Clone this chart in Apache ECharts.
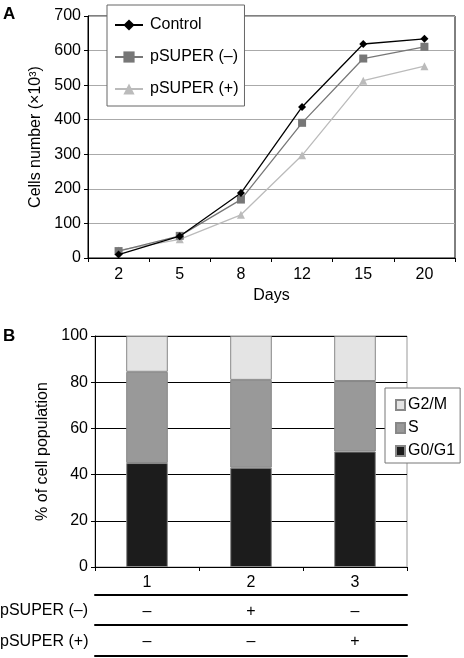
<!DOCTYPE html>
<html>
<head>
<meta charset="utf-8">
<script src="https://cdn.jsdelivr.net/npm/echarts@6/dist/echarts.min.js"></script>
<style>html,body{margin:0;padding:0;background:#fff;}#c{width:464px;height:658px;}</style>
</head>
<body>
<div id="c"></div>
<script>
// Panel A data
var days = ['2', '5', '8', '12', '15', '20'];
var control = [10, 63, 188, 437, 619, 634];
var pSuperMinus = [20, 64, 169, 391, 577, 611];
var pSuperPlus = [22, 54, 125, 297, 513, 555];
var yTicksA = [0, 700, 100];

// Panel B data
var groups = ['1', '2', '3'];
var g0g1 = [45, 43, 50];
var sPhase = [39.5, 38, 30.5];
var g2m = [15.5, 19, 19.5];
var rowMinus = ['\u2013', '+', '\u2013'];
var rowPlus = ['\u2013', '\u2013', '+'];

var FONT = 'Liberation Sans, Arial, sans-serif';
var FS = 16;
var chart = echarts.init(document.getElementById('c'), null, {renderer: 'canvas'});

var option = {
  animation: false,
  textStyle: {fontFamily: FONT, color: '#000'},
  grid: [
    {left: 88, top: 16, width: 367, height: 242, show: true, borderColor: '#000', borderWidth: 1, backgroundColor: 'transparent'},
    {left: 95, top: 336, width: 312, height: 231, show: true, borderColor: '#999', borderWidth: 1, backgroundColor: 'transparent'}
  ],
  legend: [
    {
      data: ['Control', 'pSUPER (\u2013)', 'pSUPER (+)'],
      orient: 'vertical', left: 107, top: 5, width: 137,
      padding: [12, 6, 9, 7], itemGap: 16, itemWidth: 28, itemHeight: 14,
      borderColor: '#666', borderWidth: 1, backgroundColor: '#fff',
      textStyle: {fontSize: FS, fontFamily: FONT, color: '#000', padding: [0, 0, 0, 2]}
    },
    {
      data: ['G2/M', 'S', 'G0/G1'],
      orient: 'vertical', left: 385, top: 388, icon: 'rect',
      padding: [9, 5, 4, 10], itemGap: 7, itemWidth: 9, itemHeight: 10,
      borderColor: '#777', borderWidth: 1, backgroundColor: '#fff',
      textStyle: {fontSize: FS, fontFamily: FONT, color: '#000', padding: [0, 0, 0, -2]}
    }
  ],
  xAxis: [
    {
      gridIndex: 0, type: 'category', data: days, boundaryGap: true,
      axisLine: {lineStyle: {color: '#000', width: 1}},
      axisTick: {show: true, length: 4, lineStyle: {color: '#000'}},
      axisLabel: {fontSize: FS, color: '#000', margin: 9, fontFamily: FONT},
      name: 'Days', nameLocation: 'middle', nameGap: 30,
      nameTextStyle: {fontSize: FS, color: '#000', fontFamily: FONT}
    },
    {
      gridIndex: 1, type: 'category', data: groups, boundaryGap: true,
      axisLine: {lineStyle: {color: '#000', width: 1}},
      axisTick: {show: true, length: 4, lineStyle: {color: '#000'}},
      axisLabel: {fontSize: FS, color: '#000', margin: 8, fontFamily: FONT}
    },
    {
      gridIndex: 1, type: 'category', data: rowMinus, position: 'bottom', offset: 28,
      axisLine: {lineStyle: {color: '#000', width: 2}},
      axisTick: {show: false},
      axisLabel: {fontSize: FS, color: '#000', margin: 9, fontFamily: FONT}
    },
    {
      gridIndex: 1, type: 'category', data: rowPlus, position: 'bottom', offset: 58,
      axisLine: {lineStyle: {color: '#000', width: 2}},
      axisTick: {show: false},
      axisLabel: {fontSize: FS, color: '#000', margin: 9, fontFamily: FONT}
    },
    {
      gridIndex: 1, type: 'category', data: groups, position: 'bottom', offset: 89,
      axisLine: {lineStyle: {color: '#000', width: 2}},
      axisTick: {show: false},
      axisLabel: {show: false}
    }
  ],
  yAxis: [
    {
      gridIndex: 0, type: 'value', min: yTicksA[0], max: yTicksA[1], interval: yTicksA[2],
      axisLine: {show: true, lineStyle: {color: '#000'}},
      axisTick: {show: true, length: 4, lineStyle: {color: '#000'}},
      axisLabel: {fontSize: FS, color: '#000', margin: 7, fontFamily: FONT},
      splitLine: {lineStyle: {color: '#aaa', width: 1}},
      name: 'Cells number (\u00d710\u00b3)', nameLocation: 'middle', nameGap: 43, nameRotate: 90,
      nameTextStyle: {fontSize: FS, color: '#000', fontFamily: FONT}
    },
    {
      gridIndex: 1, type: 'value', min: 0, max: 100, interval: 20,
      axisLine: {show: true, lineStyle: {color: '#000'}},
      axisTick: {show: true, length: 4, lineStyle: {color: '#000'}},
      axisLabel: {fontSize: FS, color: '#000', margin: 7, fontFamily: FONT},
      splitLine: {lineStyle: {color: '#000', width: 1}},
      name: '% of cell population', nameLocation: 'middle', nameGap: 40, nameRotate: 90,
      nameTextStyle: {fontSize: FS, color: '#000', fontFamily: FONT}
    }
  ],
  series: [
    {
      name: 'Control', type: 'line', xAxisIndex: 0, yAxisIndex: 0, data: control,
      symbol: 'diamond', symbolSize: 8, lineStyle: {color: '#000', width: 1.3},
      itemStyle: {color: '#000'}, z: 5
    },
    {
      name: 'pSUPER (\u2013)', type: 'line', xAxisIndex: 0, yAxisIndex: 0, data: pSuperMinus,
      symbol: 'rect', symbolSize: 8, lineStyle: {color: '#777', width: 1.3},
      itemStyle: {color: '#777'}, z: 4
    },
    {
      name: 'pSUPER (+)', type: 'line', xAxisIndex: 0, yAxisIndex: 0, data: pSuperPlus,
      symbol: 'triangle', symbolSize: 8, lineStyle: {color: '#bbb', width: 1.3},
      itemStyle: {color: '#bbb'}, z: 3
    },
    {
      name: 'G0/G1', type: 'bar', xAxisIndex: 1, yAxisIndex: 1, stack: 'cc', data: g0g1,
      barWidth: '40%', itemStyle: {color: '#1c1c1c', borderColor: '#888', borderWidth: 1}
    },
    {
      name: 'S', type: 'bar', xAxisIndex: 1, yAxisIndex: 1, stack: 'cc', data: sPhase,
      barWidth: '40%', itemStyle: {color: '#999', borderColor: '#888', borderWidth: 1}
    },
    {
      name: 'G2/M', type: 'bar', xAxisIndex: 1, yAxisIndex: 1, stack: 'cc', data: g2m,
      barWidth: '40%', itemStyle: {color: '#e4e4e4', borderColor: '#888', borderWidth: 1}
    }
  ],
  graphic: [
    {type: 'text', left: 3, top: 6, style: {text: 'A', font: 'bold 17px ' + FONT, fill: '#000'}},
    {type: 'text', left: 3, top: 328, style: {text: 'B', font: 'bold 17px ' + FONT, fill: '#000'}},
    {type: 'text', left: 0, top: 603, style: {text: 'pSUPER (\u2013)', font: FS + 'px ' + FONT, fill: '#000'}},
    {type: 'text', left: 0, top: 634, style: {text: 'pSUPER (+)', font: FS + 'px ' + FONT, fill: '#000'}}
  ]
};
chart.setOption(option);
</script>
</body>
</html>
